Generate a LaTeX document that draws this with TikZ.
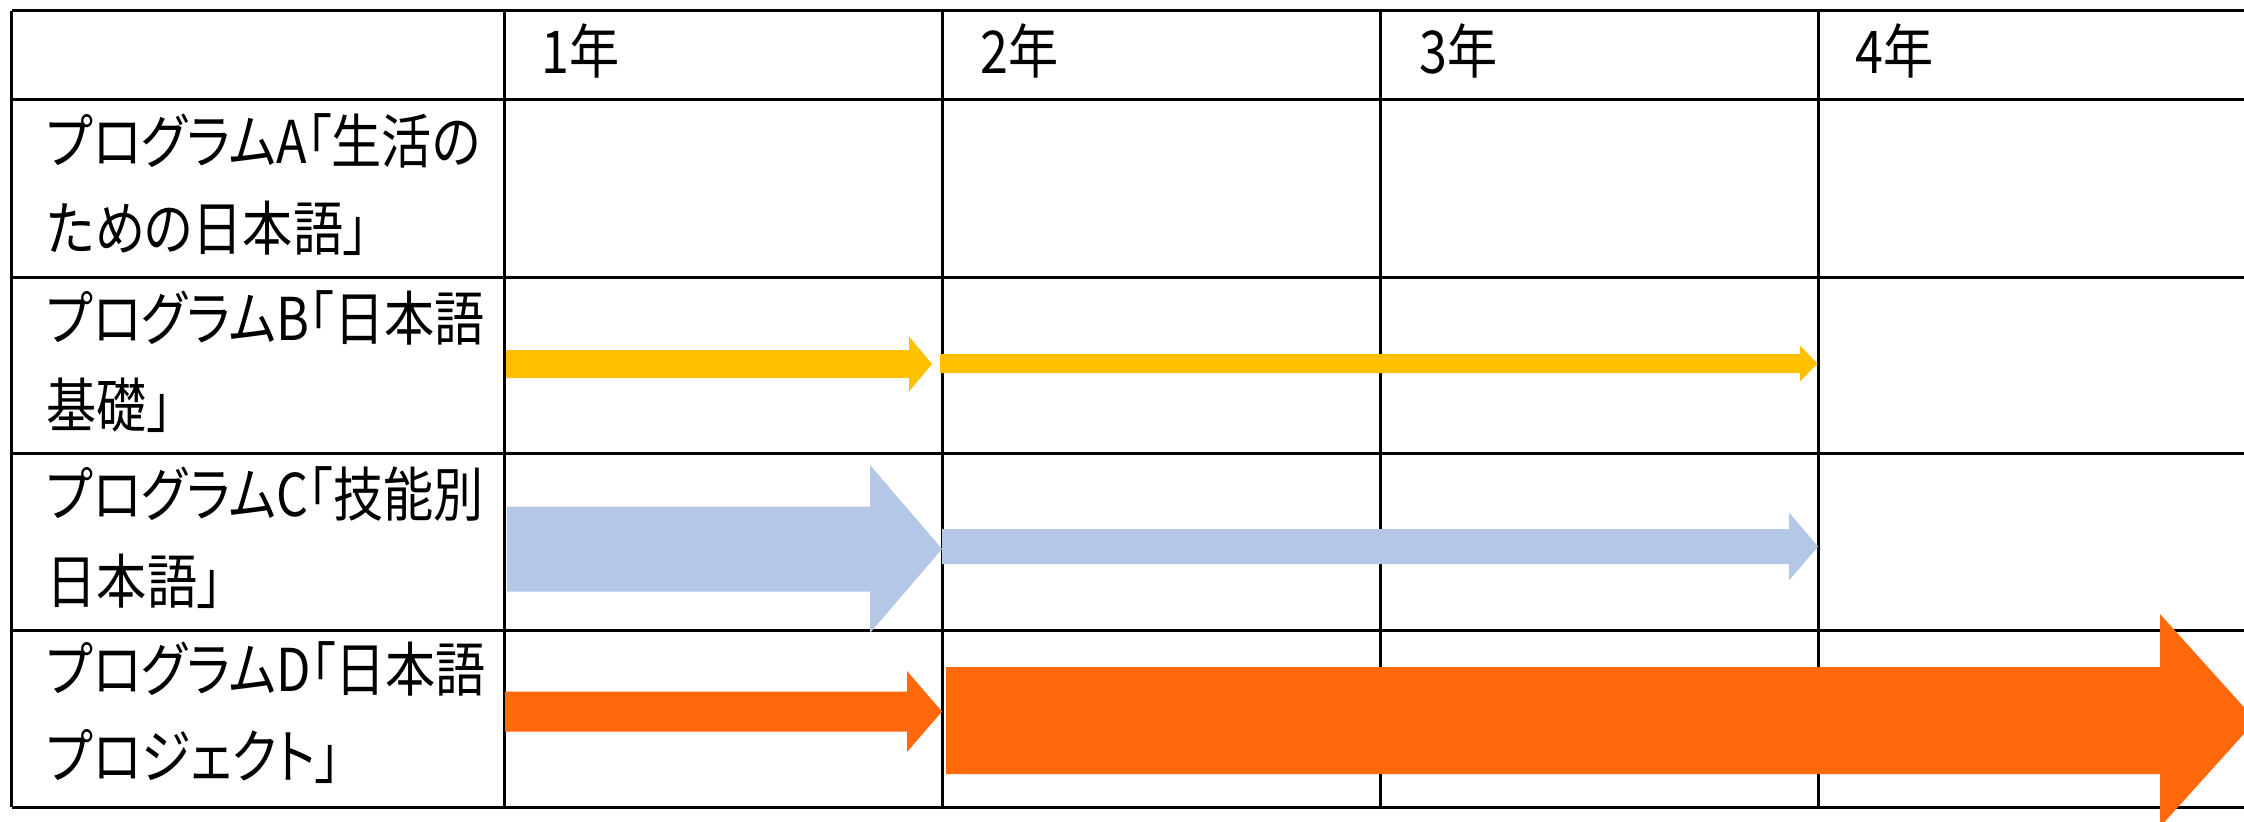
\documentclass[tikz,border=0pt]{standalone}
\usepackage{fontspec}
\newfontfamily\jpfont{Noto Sans CJK JP}[FakeStretch=0.85,RawFeature=+palt]
\definecolor{progB}{HTML}{FFC000}
\definecolor{progC}{HTML}{B4C7E7}
\definecolor{progD}{HTML}{FF690C}
% block arrow: colour, start x, tip x, centre y, shaft half, head half, head length
\newcommand{\blockarrow}[7]{%
  \fill[#1] (#2,#4-#5) -- (#3-#7,#4-#5) -- (#3-#7,#4-#6) -- (#3,#4)
    -- (#3-#7,#4+#6) -- (#3-#7,#4+#5) -- (#2,#4+#5) -- cycle;}
\begin{document}
\begin{tikzpicture}[x=1pt,y=-1pt]
      \useasboundingbox (0,0) rectangle (2244,822);
      \begin{scope}[line width=3pt]
        \foreach \y in {10.5,99,277,453,630,807}
          \draw (11.5,\y) -- (2244,\y);
        \foreach \x in {11.5,504,942,1380,1818}
          \draw (\x,10.5) -- (\x,807);
      \end{scope}
      \begin{scope}[every node/.style={anchor=west,inner sep=0pt,align=left,
          font=\jpfont\fontsize{59}{87}\selectfont}]
        \node (Y1) at (541,51) {1年};
        \node (Y2) at (980,51) {2年};
        \node (Y3) at (1419,51) {3年};
        \node (Y4) at (1855,51) {4年};
        \node (PA) at (46.5,185) {プログラムA「生活の\\ための日本語」};
        \node (PB) at (46.5,361.5) {プログラムB「日本語\\基礎」};
        \node (PC) at (46.5,538) {プログラムC「技能別\\日本語」};
        \node (PD) at (46.5,713) {プログラムD「日本語\\プロジェクト」};
      \end{scope}
      \blockarrow{progB}{506}{932}{364}{14}{27.5}{23}
      \blockarrow{progB}{940}{1817.5}{363.5}{9.5}{18}{17.5}
      \blockarrow{progC}{507}{942}{549}{42.5}{84}{72}
      \blockarrow{progC}{942}{1818}{546.5}{17.5}{34}{29}
      \blockarrow{progD}{505}{942}{711.5}{20}{40.5}{35}
      \blockarrow{progD}{946}{2256}{720.5}{53.5}{106.5}{96}
    \end{tikzpicture}
\end{document}
